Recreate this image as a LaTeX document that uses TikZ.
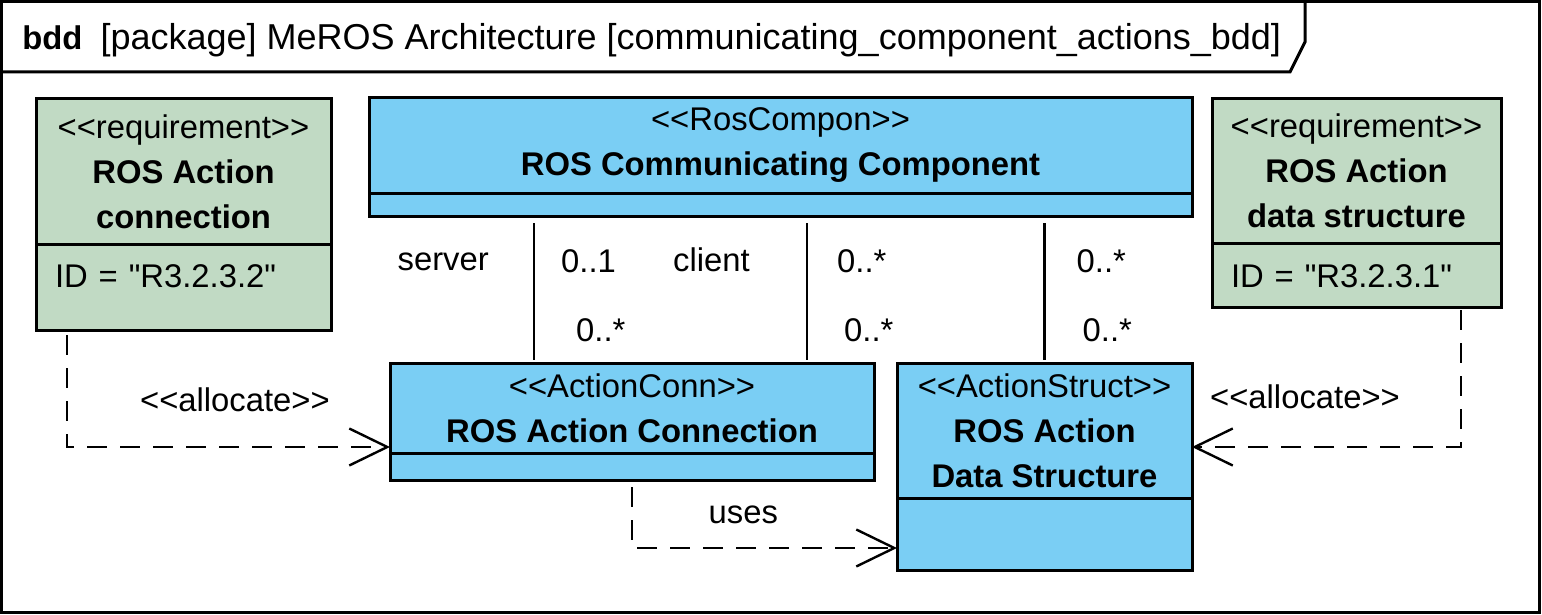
\documentclass[tikz,border=0pt]{standalone}
\usepackage{fontspec}
\setmainfont{Liberation Sans}[Ligatures=TeXOff]
\usepackage{tikz}
\usetikzlibrary{
  arrows.meta,
  positioning,
  calc,
}

\definecolor{blockblue}{RGB}{122,206,244}
\definecolor{reqgreen}{RGB}{193,218,196}
\newlength{\unitpx}
\setlength{\unitpx}{0.5pt}
\newcommand{\stereo}[1]{{<}{<}#1{>}{>}}

\begin{document}
\begin{tikzpicture}[
  x=0.5pt, y=-0.5pt,
  classhead/.style={
    draw, line width=1.5pt, fill=blockblue, inner sep=0pt, outer sep=0pt,
    align=center, font=\fontsize{16.4}{22.5}\selectfont,
  },
  classpart/.style={
    draw, line width=1.5pt, fill=blockblue, inner sep=0pt, outer sep=0pt,
  },
  reqhead/.style={classhead, fill=reqgreen},
  reqattr/.style={
    draw, line width=1.5pt, fill=reqgreen, inner xsep=19\unitpx, inner ysep=0pt,
    outer sep=0pt, align=left, font=\fontsize{16.4}{20}\selectfont,
  },
  frame/.style={line width=1.5pt},
  assoc/.style={line width=1.2pt, shorten <=3.5pt, shorten >=1.5pt},
  dep/.style={-{Straight Barb[length=19pt,width=18.5pt]}, line width=1.2pt,
    dash pattern=on 10pt off 6.5pt},
  note/.style={font=\fontsize{16.4}{20}\selectfont, inner sep=0pt},
]
\useasboundingbox (0,0) rectangle (1542,615);

% ── Frame ───────────────────────────────────────────────────────────
\draw[frame] (1.5,1.5) rectangle (1539.5,612.5);
\draw[frame] (1.5,72) -- (1290,72) -- (1305,42) -- (1305,1.5);
\node[note, anchor=west] (title) at (22,40)
  {\textbf{bdd}\hspace{9pt}{\fontsize{18}{20}\selectfont[package] MeROS Architecture [communicating\_component\_actions\_bdd]}};

% ── Requirements ────────────────────────────────────────────────────
\node[reqhead, minimum width=295\unitpx, minimum height=145\unitpx, anchor=north west]
  (reqconn) at (36,99)
  {\stereo{requirement}\\\textbf{ROS Action}\\\textbf{connection}};
\node[reqattr, below=0pt of reqconn, text width=257\unitpx, text height=21.5pt, text depth=21.5pt]
  (reqconnid) {ID = "R3.2.3.2"};

\node[reqhead, minimum width=289\unitpx, minimum height=144\unitpx, anchor=north west]
  (reqstruct) at (1212,99)
  {\stereo{requirement}\\\textbf{ROS Action}\\\textbf{data structure}};
\node[reqattr, below=0pt of reqstruct, text width=251\unitpx, text height=22pt, text depth=10pt]
  (reqstructid) {ID = "R3.2.3.1"};

% ── Blocks ──────────────────────────────────────────────────────────
\node[classhead, minimum width=823\unitpx, minimum height=95\unitpx, anchor=north west]
  (comp) at (369,98)
  {\stereo{RosCompon}\\\textbf{ROS Communicating Component}};
\node[classpart, below=0pt of comp, minimum width=823\unitpx, minimum height=23\unitpx]
  (compattr) {};

\node[classhead, minimum width=484\unitpx, minimum height=90\unitpx, anchor=north west]
  (conn) at (390,363)
  {\stereo{ActionConn}\\\textbf{ROS Action Connection}};
\node[classpart, below=0pt of conn, minimum width=484\unitpx, minimum height=27\unitpx]
  (connattr) {};

\node[classhead, minimum width=295\unitpx, minimum height=135\unitpx, anchor=north west]
  (struct) at (897,363)
  {\stereo{ActionStruct}\\\textbf{ROS Action}\\\textbf{Data Structure}};
\node[classpart, below=0pt of struct, minimum width=295\unitpx, minimum height=72\unitpx]
  (structattr) {};

% ── Associations ────────────────────────────────────────────────────
\draw[assoc] ([xshift=-49pt]conn.north |- compattr.south) -- ([xshift=-49pt]conn.north)
  node[pos=.31, left=22pt, note] {server}
  node[pos=.31, right=13pt, note] {0..1}
  node[pos=.78, right=20.5pt, note] {0..*};
\draw[assoc] ([xshift=87.5pt]conn.north |- compattr.south) -- ([xshift=87.5pt]conn.north)
  node[pos=.30, left=28pt, note] {client}
  node[pos=.31, right=14.5pt, note] {0..*}
  node[pos=.78, right=18pt, note] {0..*};
\draw[assoc] (struct.north |- compattr.south) -- (struct.north)
  node[pos=.31, right=15.5pt, note] {0..*}
  node[pos=.78, right=18.5pt, note] {0..*};

% ── Dependencies ────────────────────────────────────────────────────
\draw[dep, shorten <=2.5pt] ([xshift=31\unitpx]reqconnid.south west) |- ([yshift=-19.5pt]conn.west)
  node[pos=.76, above=17pt, note] {\stereo{allocate}};
\draw[dep, shorten <=1.5pt] ([xshift=-40\unitpx]reqstructid.south east) |- ([yshift=-8.25pt]struct.east)
  node[pos=.79, above=18.5pt, note] {\stereo{allocate}};
\draw[dep, shorten <=3.5pt] (connattr.south) |- ([yshift=-7pt]structattr.west)
  node[pos=.71, above=11.5pt, note] {uses};

\end{tikzpicture}
\end{document}
